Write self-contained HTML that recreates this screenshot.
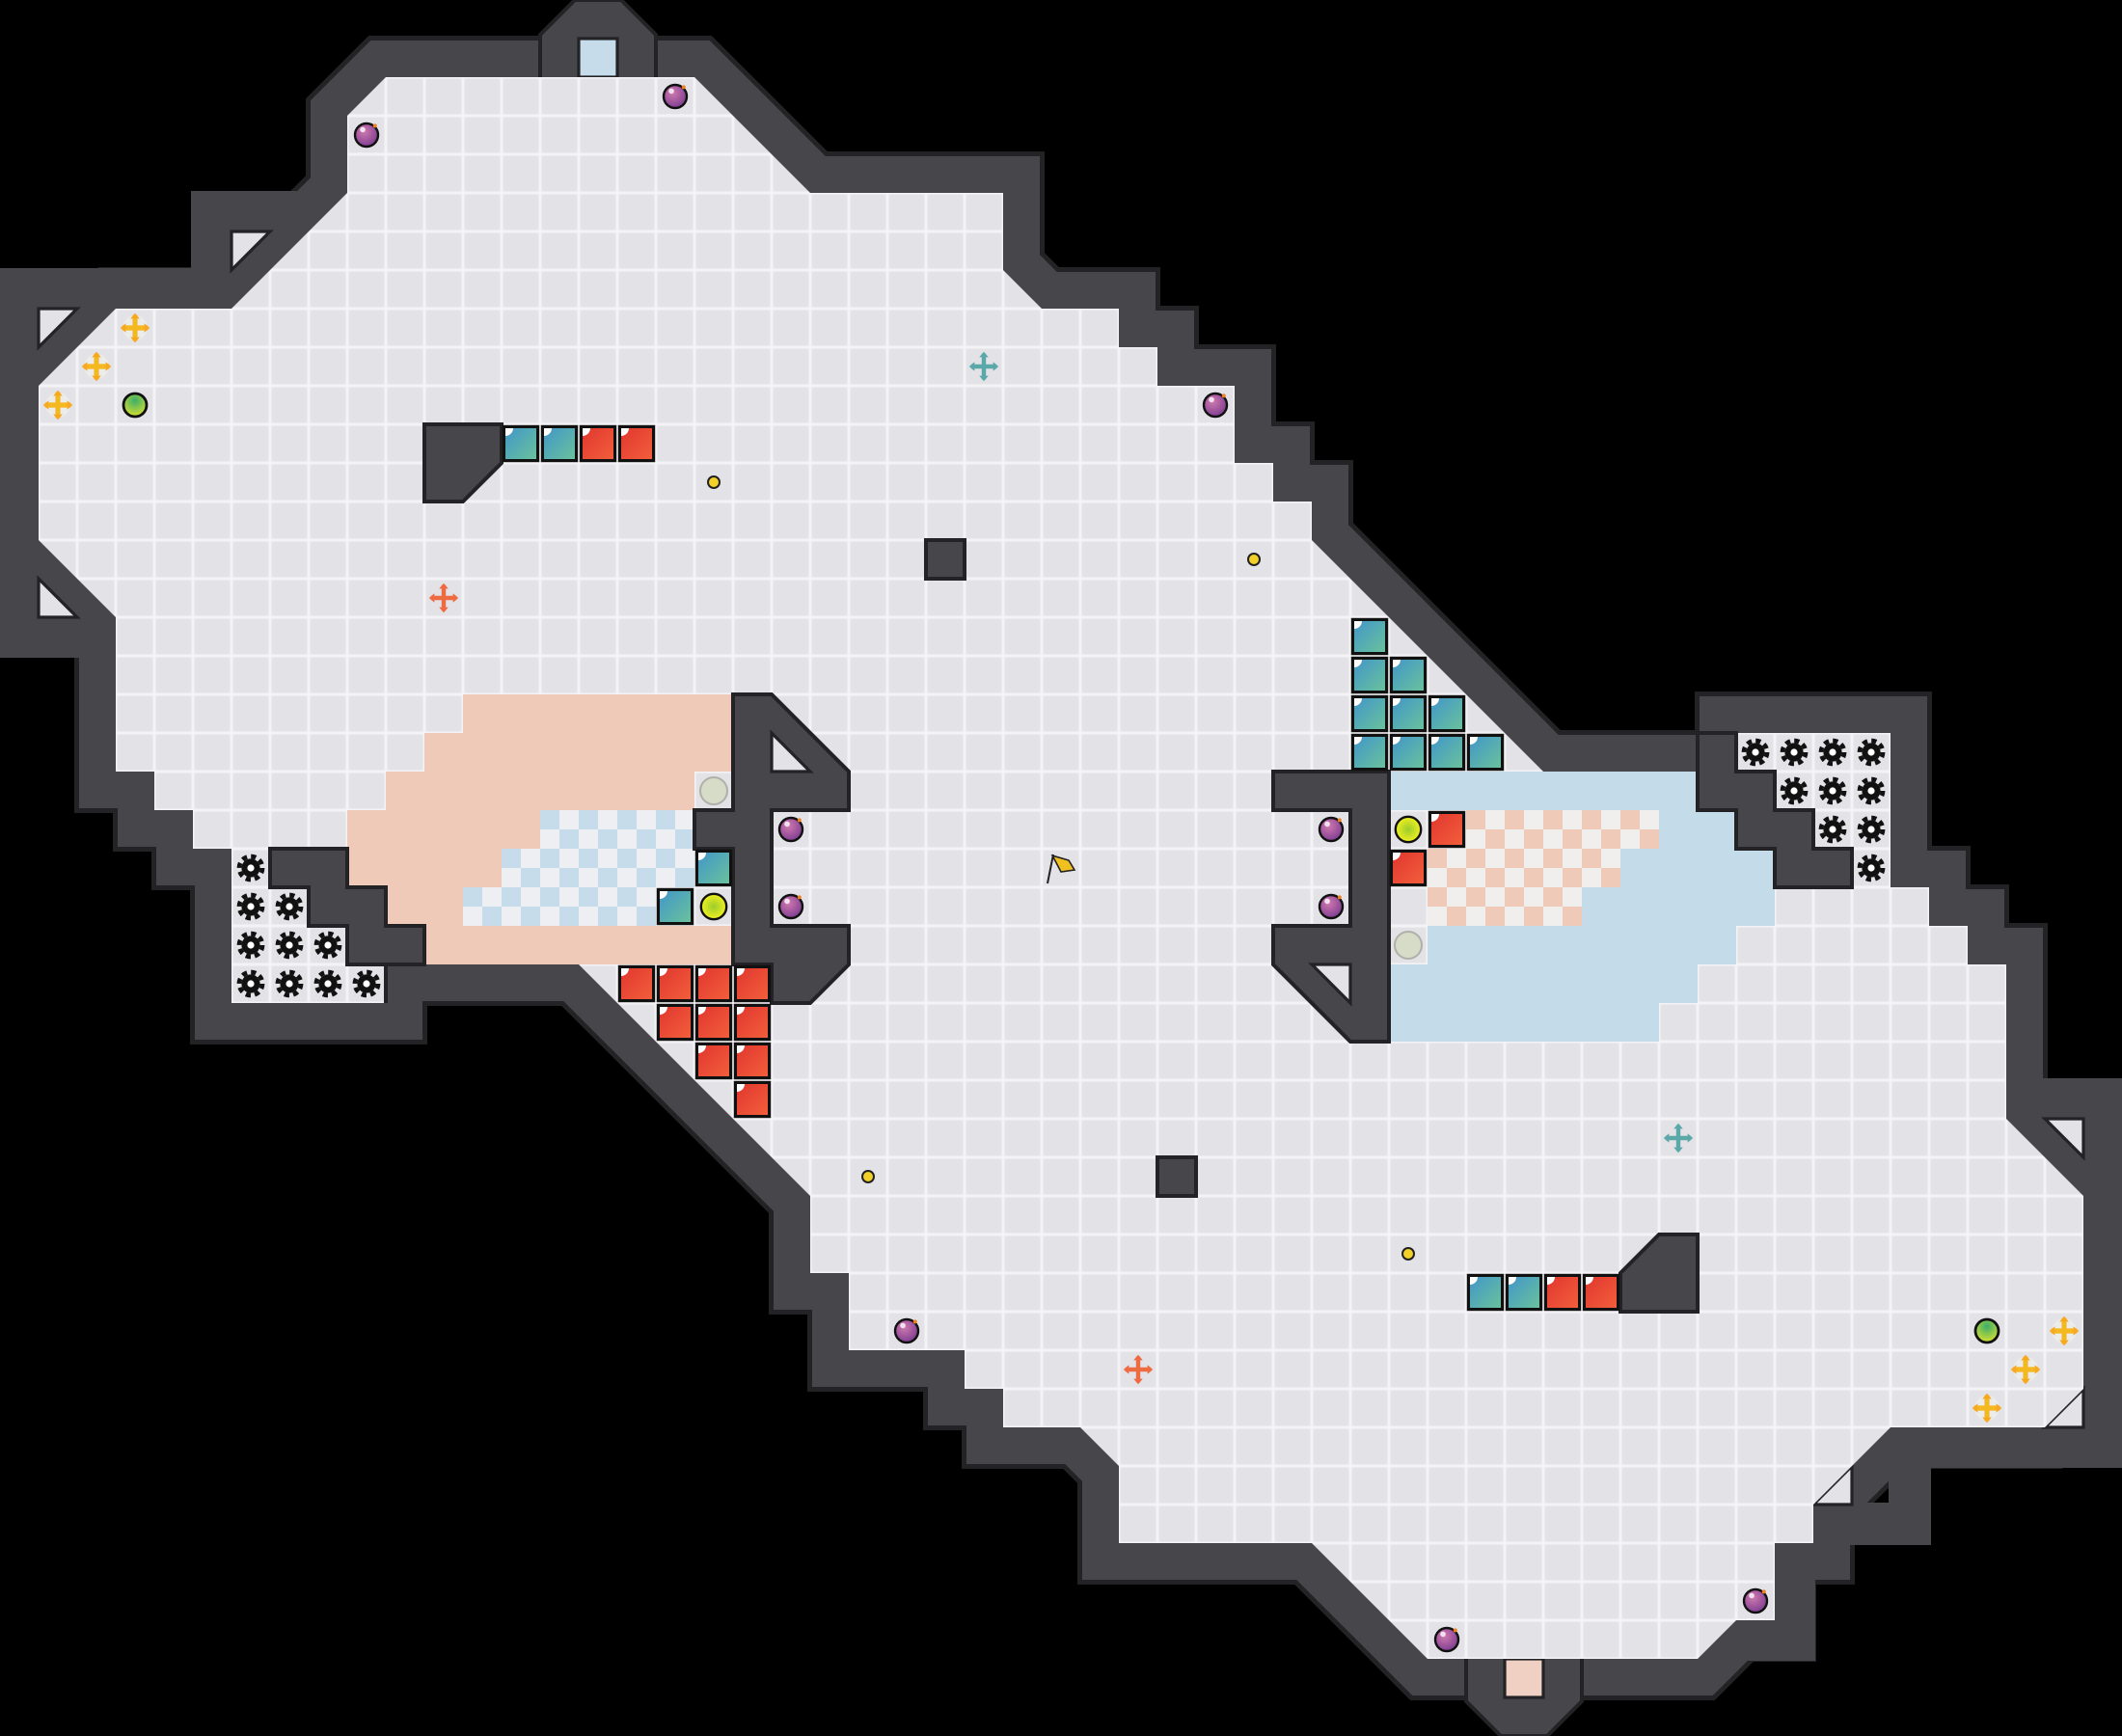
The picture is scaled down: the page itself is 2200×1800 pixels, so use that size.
<!DOCTYPE html>
<html><head><meta charset="utf-8"><style>html,body{margin:0;padding:0;background:#000}svg{display:block}</style></head><body>
<svg width="2200" height="1800" viewBox="0 0 55 45" xmlns="http://www.w3.org/2000/svg">
<defs>
<pattern id="g" width="1" height="1" patternUnits="userSpaceOnUse">
<rect width="1" height="1" fill="#f3f3f5"/><rect x="0.04" y="0.04" width="0.92" height="0.92" fill="#e2e2e7"/>
</pattern>
<pattern id="cb" width="1" height="1" patternUnits="userSpaceOnUse">
<rect width="1" height="1" fill="#eeeff2"/><rect width="0.5" height="0.5" fill="#c7dcea"/><rect x="0.5" y="0.5" width="0.5" height="0.5" fill="#c7dcea"/>
</pattern>
<pattern id="cp" width="1" height="1" patternUnits="userSpaceOnUse">
<rect width="1" height="1" fill="#f1eeee"/><rect width="0.5" height="0.5" fill="#efcab8"/><rect x="0.5" y="0.5" width="0.5" height="0.5" fill="#efcab8"/>
</pattern>
<linearGradient id="tg" x1="0" y1="0" x2="1" y2="1"><stop offset="0" stop-color="#3f95c9"/><stop offset="1" stop-color="#6cc39a"/></linearGradient>
<linearGradient id="rg" x1="0" y1="0" x2="1" y2="1"><stop offset="0" stop-color="#e0352e"/><stop offset="1" stop-color="#f3603c"/></linearGradient>
<radialGradient id="pg" cx="0.4" cy="0.35" r="0.7"><stop offset="0" stop-color="#d07ab0"/><stop offset="1" stop-color="#7a3a8e"/></radialGradient>
<radialGradient id="yg" cx="0.5" cy="0.5" r="0.5"><stop offset="0" stop-color="#9ccc2c"/><stop offset="1" stop-color="#f0f020"/></radialGradient>
<radialGradient id="gg" cx="0.5" cy="0.3" r="0.7"><stop offset="0" stop-color="#3cae6a"/><stop offset="1" stop-color="#d8e030"/></radialGradient>
<g id="bomb"><circle r="0.3" fill="url(#pg)" stroke="#111" stroke-width="0.06"/><circle cx="-0.1" cy="-0.14" r="0.07" fill="#fff" opacity="0.8"/><circle cx="0.22" cy="-0.24" r="0.05" fill="#f08020"/></g>
<g id="gear"><circle r="0.24" fill="#111"/><circle r="0.3" fill="none" stroke="#111" stroke-width="0.12" stroke-dasharray="0.13 0.105"/><circle r="0.09" fill="#fff"/></g>
<g id="crossY"><circle r="0.32" fill="#ececec"/><path d="M-0.33 0H0.33M0 -0.33V0.33" stroke="#f5b820" stroke-width="0.13"/><path d="M-0.38 0L-0.24 -0.12L-0.24 0.12ZM0.38 0L0.24 -0.12L0.24 0.12ZM0 -0.38L-0.12 -0.24L0.12 -0.24ZM0 0.38L-0.12 0.24L0.12 0.24Z" fill="#f5a820"/></g>
<g id="crossT"><path d="M-0.33 0H0.33M0 -0.33V0.33" stroke="#5aa8a8" stroke-width="0.11"/><path d="M-0.38 0L-0.24 -0.12L-0.24 0.12ZM0.38 0L0.24 -0.12L0.24 0.12ZM0 -0.38L-0.12 -0.24L0.12 -0.24ZM0 0.38L-0.12 0.24L0.12 0.24Z" fill="#5aa8a8"/></g>
<g id="crossO"><path d="M-0.33 0H0.33M0 -0.33V0.33" stroke="#ee6a40" stroke-width="0.11"/><path d="M-0.38 0L-0.24 -0.12L-0.24 0.12ZM0.38 0L0.24 -0.12L0.24 0.12ZM0 -0.38L-0.12 -0.24L0.12 -0.24ZM0 0.38L-0.12 0.24L0.12 0.24Z" fill="#ee6a40"/></g>
<g id="tb"><rect x="0.06" y="0.06" width="0.88" height="0.88" fill="url(#tg)" stroke="#111" stroke-width="0.08"/><path d="M0.1 0.1h0.2a0.2 0.2 0 0 1 -0.2 0.2z" fill="#fff"/></g>
<g id="rb"><rect x="0.06" y="0.06" width="0.88" height="0.88" fill="url(#rg)" stroke="#111" stroke-width="0.08"/><path d="M0.1 0.1h0.2a0.2 0.2 0 0 1 -0.2 0.2z" fill="#fff"/></g>
</defs>
<rect width="55" height="45" fill="#000"/>
<g stroke-linejoin="miter" stroke-miterlimit="4">
<polygon points="6,8 9,5 9,3 10,2 18,2 21,5 26,5 26,7 27,8 29,8 29,9 30,9 30,10 32,10 32,12 33,12 33,13 34,13 34,14 40,20 45,20 45,19 49,19 49,23 50,23 50,24 51,24 51,25 52,25 52,29 54,31 54,36 53,37 49,37 47,39 47,40 46,40 46,42 45,42 44,43 37,43 34,40 29,40 29,38 28,37 26,37 26,36 25,36 25,35 22,35 22,33 21,33 21,31 15,25 10,25 10,26 6,26 6,22 5,22 5,21 4,21 4,20 3,20 3,16 1,14 1,10 3,8" fill="#47474b" stroke="#232326" stroke-width="2.15"/>
</g>
<!-- corner wall fills -->
<g fill="#47474b">
<rect x="-0.05" y="6.95" width="7" height="1.1"/><rect x="-0.05" y="6.95" width="1.1" height="10.1"/><rect x="-0.05" y="15.95" width="3.1" height="1.1"/>
<rect x="4.95" y="4.95" width="3" height="1.1"/><rect x="4.95" y="4.95" width="1.1" height="3"/>
<rect x="52" y="27.95" width="3.05" height="1.1"/><rect x="53.95" y="27.95" width="1.1" height="10.1"/><rect x="49" y="36.95" width="6.05" height="1.1"/>
<rect x="48.95" y="37" width="1.1" height="3.05"/><rect x="47" y="38.95" width="3.05" height="1.1"/>
<rect x="45.95" y="39" width="1.1" height="4.05"/><rect x="44" y="41.95" width="3" height="1.1"/>
</g>
<polygon points="6,8 9,5 9,3 10,2 18,2 21,5 26,5 26,7 27,8 29,8 29,9 30,9 30,10 32,10 32,12 33,12 33,13 34,13 34,14 40,20 45,20 45,19 49,19 49,23 50,23 50,24 51,24 51,25 52,25 52,29 54,31 54,36 53,37 49,37 47,39 47,40 46,40 46,42 45,42 44,43 37,43 34,40 29,40 29,38 28,37 26,37 26,36 25,36 25,35 22,35 22,33 21,33 21,31 15,25 10,25 10,26 6,26 6,22 5,22 5,21 4,21 4,20 3,20 3,16 1,14 1,10 3,8" fill="#47474b" stroke="#47474b" stroke-width="1.9" stroke-linejoin="miter"/>
<!-- nubs -->
<polygon points="14.9,0 16.1,0 17,0.9 17,2.1 16.1,3 14.9,3 14,2.1 14,0.9" fill="#47474b" stroke="#232326" stroke-width="0.1"/>
<rect x="15" y="1" width="1" height="1" fill="#c7dcea" stroke="#232326" stroke-width="0.08"/>
<polygon points="38.9,42 40.1,42 41,42.9 41,44.1 40.1,45 38.9,45 38,44.1 38,42.9" fill="#47474b" stroke="#232326" stroke-width="0.1"/>
<rect x="39" y="43" width="1" height="1" fill="#efd0c2" stroke="#232326" stroke-width="0.08"/>
<!-- wall triangles -->
<g fill="#e2e2e7" stroke="#232326" stroke-width="0.08">
<polygon points="1,8 2,8 1,9"/><polygon points="6,6 7,6 6,7"/><polygon points="1,15 2,16 1,16"/>
<polygon points="53,29 54,29 54,30"/><polygon points="54,36 54,37 53,37"/><polygon points="48,38 48,39 47,39"/>
</g>
<!-- floor -->
<polygon points="6,8 9,5 9,3 10,2 18,2 21,5 26,5 26,7 27,8 29,8 29,9 30,9 30,10 32,10 32,12 33,12 33,13 34,13 34,14 40,20 45,20 45,19 49,19 49,23 50,23 50,24 51,24 51,25 52,25 52,29 54,31 54,36 53,37 49,37 47,39 47,40 46,40 46,42 45,42 44,43 37,43 34,40 29,40 29,38 28,37 26,37 26,36 25,36 25,35 22,35 22,33 21,33 21,31 15,25 10,25 10,26 6,26 6,22 5,22 5,21 4,21 4,20 3,20 3,16 1,14 1,10 3,8" fill="url(#g)"/>
<!-- zones left -->
<g fill="#efcab8">
<rect x="12" y="18" width="7" height="1"/><rect x="11" y="19" width="8" height="1"/><rect x="10" y="20" width="8" height="1"/>
<rect x="9" y="21" width="5" height="1"/><rect x="9" y="22" width="4" height="1"/><rect x="10" y="23" width="2" height="1"/><rect x="11" y="24" width="8" height="1"/>
</g>
<g fill="url(#cb)"><rect x="14" y="21" width="4" height="1"/><rect x="13" y="22" width="5" height="1"/><rect x="12" y="23" width="5" height="1"/></g>
<!-- zones right -->
<g fill="#c4dbea">
<rect x="36" y="20" width="8" height="1"/><rect x="43" y="21" width="2" height="1"/><rect x="42" y="22" width="4" height="1"/><rect x="41" y="23" width="5" height="1"/>
<rect x="37" y="24" width="8" height="1"/><rect x="36" y="25" width="8" height="1"/><rect x="36" y="26" width="7" height="1"/>
</g>
<g fill="url(#cp)"><rect x="38" y="21" width="5" height="1"/><rect x="37" y="22" width="5" height="1"/><rect x="37" y="23" width="4" height="1"/></g>
<!-- inner walls -->
<g fill="#47474b" stroke="#232326" stroke-width="0.1" stroke-linejoin="miter">
<polygon points="7,22 9,22 9,23 10,23 10,24 11,24 11,25 10,25 10,26 10,25 9,25 9,24 8,24 8,23 7,23"/>
<polygon points="44,19 45,19 45,20 46,20 46,21 47,21 47,22 48,22 48,23 46,23 46,22 45,22 45,21 44,21"/>
<polygon points="11,11 13,11 13,12 12,13 11,13"/>
<rect x="24" y="14" width="1" height="1"/>
<rect x="30" y="30" width="1" height="1"/>
<polygon points="42,33 43,32 44,32 44,34 42,34"/>
<polygon points="19,18 20,18 22,20 22,21 20,21 20,24 22,24 22,25 21,26 20,26 20,25 19,25 19,22 18,22 18,21 19,21"/>
<polygon points="33,20 36,20 36,27 35,27 33,25 33,24 35,24 35,21 33,21"/>
</g>
<g fill="#e2e2e7" stroke="#232326" stroke-width="0.08">
<polygon points="20,19 20,20 21,20"/><polygon points="34,25 35,25 35,26"/>
</g>
<!-- blocks -->
<use href="#tb" x="13" y="11"/><use href="#tb" x="14" y="11"/><use href="#rb" x="15" y="11"/><use href="#rb" x="16" y="11"/>
<use href="#tb" x="38" y="33"/><use href="#tb" x="39" y="33"/><use href="#rb" x="40" y="33"/><use href="#rb" x="41" y="33"/>
<use href="#tb" x="35" y="16"/><use href="#tb" x="35" y="17"/><use href="#tb" x="36" y="17"/>
<use href="#tb" x="35" y="18"/><use href="#tb" x="36" y="18"/><use href="#tb" x="37" y="18"/>
<use href="#tb" x="35" y="19"/><use href="#tb" x="36" y="19"/><use href="#tb" x="37" y="19"/><use href="#tb" x="38" y="19"/>
<use href="#rb" x="16" y="25"/><use href="#rb" x="17" y="25"/><use href="#rb" x="18" y="25"/><use href="#rb" x="19" y="25"/>
<use href="#rb" x="17" y="26"/><use href="#rb" x="18" y="26"/><use href="#rb" x="19" y="26"/>
<use href="#rb" x="18" y="27"/><use href="#rb" x="19" y="27"/><use href="#rb" x="19" y="28"/>
<use href="#tb" x="18" y="22"/><use href="#tb" x="17" y="23"/>
<use href="#rb" x="37" y="21"/><use href="#rb" x="36" y="22"/>
<!-- circles -->
<circle cx="18.5" cy="23.5" r="0.33" fill="url(#yg)" stroke="#111" stroke-width="0.06"/>
<circle cx="36.5" cy="21.5" r="0.33" fill="url(#yg)" stroke="#111" stroke-width="0.06"/>
<circle cx="18.5" cy="20.5" r="0.35" fill="#d6dcc8" stroke="#b0b0a8" stroke-width="0.05"/>
<circle cx="36.5" cy="24.5" r="0.35" fill="#d6dcc8" stroke="#b0b0a8" stroke-width="0.05"/>
<g stroke="#111" stroke-width="0.07"><circle cx="3.5" cy="10.5" r="0.3" fill="url(#gg)"/><circle cx="51.5" cy="34.5" r="0.3" fill="url(#gg)"/></g>
<g fill="#f3cf2a" stroke="#222" stroke-width="0.05">
<circle cx="18.5" cy="12.5" r="0.15"/><circle cx="32.5" cy="14.5" r="0.15"/><circle cx="22.5" cy="30.5" r="0.15"/><circle cx="36.5" cy="32.5" r="0.15"/>
</g>
<!-- bombs -->
<use href="#bomb" x="9.5" y="3.5"/><use href="#bomb" x="17.5" y="2.5"/><use href="#bomb" x="31.5" y="10.5"/>
<use href="#bomb" x="20.5" y="21.5"/><use href="#bomb" x="20.5" y="23.5"/><use href="#bomb" x="34.5" y="21.5"/><use href="#bomb" x="34.5" y="23.5"/>
<use href="#bomb" x="23.5" y="34.5"/><use href="#bomb" x="37.5" y="42.5"/><use href="#bomb" x="45.5" y="41.5"/>
<!-- crosses -->
<use href="#crossY" x="3.5" y="8.5"/><use href="#crossY" x="2.5" y="9.5"/><use href="#crossY" x="1.5" y="10.5"/>
<use href="#crossY" x="53.5" y="34.5"/><use href="#crossY" x="52.5" y="35.5"/><use href="#crossY" x="51.5" y="36.5"/>
<use href="#crossT" x="25.5" y="9.5"/><use href="#crossT" x="43.5" y="29.5"/>
<use href="#crossO" x="11.5" y="15.5"/><use href="#crossO" x="29.5" y="35.5"/>
<!-- gears -->
<use href="#gear" x="6.5" y="22.5"/><use href="#gear" x="6.5" y="23.5"/><use href="#gear" x="7.5" y="23.5"/>
<use href="#gear" x="6.5" y="24.5"/><use href="#gear" x="7.5" y="24.5"/><use href="#gear" x="8.5" y="24.5"/>
<use href="#gear" x="6.5" y="25.5"/><use href="#gear" x="7.5" y="25.5"/><use href="#gear" x="8.5" y="25.5"/><use href="#gear" x="9.5" y="25.5"/>
<use href="#gear" x="45.5" y="19.5"/><use href="#gear" x="46.5" y="19.5"/><use href="#gear" x="47.5" y="19.5"/><use href="#gear" x="48.5" y="19.5"/>
<use href="#gear" x="46.5" y="20.5"/><use href="#gear" x="47.5" y="20.5"/><use href="#gear" x="48.5" y="20.5"/>
<use href="#gear" x="47.5" y="21.5"/><use href="#gear" x="48.5" y="21.5"/><use href="#gear" x="48.5" y="22.5"/>
<!-- flag -->
<path d="M27.15 22.9L27.3 22.15" stroke="#222" stroke-width="0.05"/>
<path d="M27.28 22.18L27.7 22.3L27.85 22.55L27.5 22.6Z" fill="#f0c020" stroke="#222" stroke-width="0.04"/>
</svg>
</body></html>
